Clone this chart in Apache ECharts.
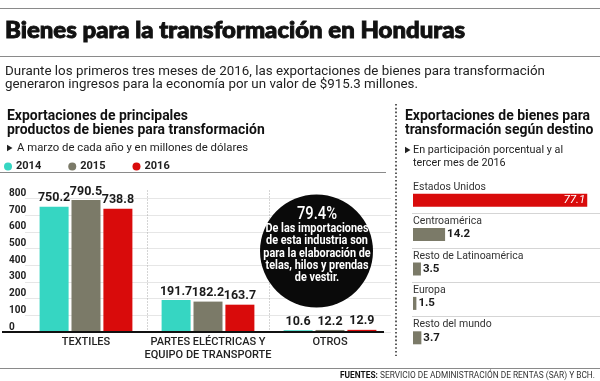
<!DOCTYPE html>
<html>
<head>
<meta charset="utf-8">
<script src="https://cdn.jsdelivr.net/npm/echarts@6/dist/echarts.min.js"></script>
<style>
html,body{margin:0;padding:0;background:#fff;}
#c{width:600px;height:381px;}
</style>
</head>
<body>
<div id="c"></div>
<script>
const categories = ['TEXTILES', 'PARTES ELÉCTRICAS Y\nEQUIPO DE TRANSPORTE', 'OTROS'];
const years = ['2014', '2015', '2016'];
const v2014 = [750.2, 191.7, 10.6];
const v2015 = [790.5, 182.2, 12.2];
const v2016 = [738.8, 163.7, 12.9];
const yMin = 0, yMax = 800, yStep = 100;
const destinos = ['Estados Unidos', 'Centroamérica', 'Resto de Latinoamérica', 'Europa', 'Resto del mundo'];
const destinoValues = [77.1, 14.2, 3.5, 1.5, 3.7];

const FONT = "Roboto, 'Noto Sans', sans-serif";
const HEAVY = "Lato, Roboto, sans-serif";
const colors = ['#36d6c2', '#7b7a68', '#d90b0b'];
const yearValues = [v2014, v2015, v2016];

const chart = echarts.init(document.getElementById('c'), null, {renderer: 'canvas'});

const barSeries = years.map((y, i) => ({
  name: y,
  type: 'bar',
  xAxisIndex: 0, yAxisIndex: 0,
  data: yearValues[i],
  barWidth: 29,
  barGap: '10%',
  itemStyle: {color: colors[i]},
  label: {show: true, position: 'top', distance: 2, color: '#1a1a1a',
    fontFamily: FONT, fontWeight: 'bold', fontSize: 12.5},
  emphasis: {disabled: true}
}));

const destData = destinoValues.map((v, i) => i === 0 ? {
  value: v, itemStyle: {color: colors[2]},
  label: {position: 'insideRight', color: '#fff', distance: 2, fontWeight: 'normal', fontStyle: 'italic'}
} : {value: v, itemStyle: {color: colors[1]}});

chart.setOption({
  animation: false,
  legend: {
    data: years, left: -1, top: 156, icon: 'circle', itemWidth: 8, itemHeight: 8, itemGap: 27,
    selectedMode: false,
    textStyle: {fontFamily: FONT, fontWeight: 'bold', fontSize: 11, color: '#222', padding: [0, 0, 0, -1]}
  },
  grid: [
    {left: 25, right: 209, top: 198.5, bottom: 49},
    {left: 413, right: 6.2, top: 183, bottom: 26}
  ],
  xAxis: [
    {type: 'category', gridIndex: 0, data: categories,
      axisLine: {show: false}, axisTick: {show: false},
      axisLabel: {margin: 4, color: '#222', fontFamily: FONT, fontWeight: 500, fontSize: 11, lineHeight: 13, interval: 0}},
    {type: 'value', gridIndex: 1, min: 0, max: 80, show: false}
  ],
  yAxis: [
    {type: 'value', gridIndex: 0, min: yMin, max: yMax, interval: yStep,
      axisLine: {show: false}, axisTick: {show: false},
      splitLine: {lineStyle: {color: '#e6e6e6', width: 1}},
      axisLabel: {align: 'left', margin: 16, verticalAlign: 'bottom', color: '#222',
        fontFamily: FONT, fontWeight: 'bold', fontSize: 10}},
    {type: 'category', gridIndex: 1, data: destinos, inverse: true,
      axisLine: {show: false}, axisTick: {show: false}, splitLine: {show: false},
      axisLabel: {inside: true, margin: 0, align: 'left', verticalAlign: 'middle',
        interval: 0, showMinLabel: true, showMaxLabel: true, hideOverlap: false,
        formatter: v => v + '\n ', lineHeight: 26,
        color: '#333', fontFamily: FONT, fontSize: 10.5}}
  ],
  series: barSeries.concat([{
    type: 'bar', xAxisIndex: 1, yAxisIndex: 1, data: destData, barWidth: 13,
    label: {show: true, position: 'right', distance: 2, color: '#1a1a1a',
      fontFamily: FONT, fontWeight: 'bold', fontSize: 11.5},
    emphasis: {disabled: true}
  }])
});

// ---- text helpers (condensed headline type via horizontal scaling) ----
const mctx = document.createElement('canvas').getContext('2d');
function fontStr(size, weight, fam) { return weight + ' ' + size + 'px ' + (fam || FONT); }
function measure(text, size, weight, fam) { mctx.font = fontStr(size, weight, fam); return mctx.measureText(text).width; }
function textBlock(lines, x, y0, gap, size, weight, targetFirst, color, align, fam, stroke) {
  const sx = targetFirst / measure(lines[0], size, weight, fam);
  return lines.map((t, i) => ({
    type: 'text', z: 21, x: x, y: y0 + i * gap, scaleX: sx, silent: true,
    style: Object.assign({text: t, font: fontStr(size, weight, fam), fill: color, align: align || 'left', verticalAlign: 'middle'},
      stroke ? {stroke: color, lineWidth: stroke} : {})
  }));
}
function tri(x, y) {
  return {type: 'polygon', silent: true, shape: {points: [[x, y - 3.2], [x, y + 3.2], [x + 5.5, y]]}, style: {fill: '#222'}};
}

// decorative elements positioned from the axes
const base = chart.convertToPixel({gridIndex: 0}, [0, 0]);
const top800 = chart.convertToPixel({gridIndex: 0}, [0, yMax]);
const c0 = chart.convertToPixel({gridIndex: 0}, [0, 0])[0];
const c1 = chart.convertToPixel({gridIndex: 0}, [1, 0])[0];
const c2 = chart.convertToPixel({gridIndex: 0}, [2, 0])[0];
const sepXs = [(c0 + c1) / 2, (c1 + c2) / 2];
const baseY = base[1];

let graphics = [
  {type: 'line', shape: {x1: 0, y1: 8.5, x2: 600, y2: 8.5}, style: {stroke: '#8a8a8a', lineWidth: 1}},
  {type: 'line', shape: {x1: 0, y1: 56.5, x2: 600, y2: 56.5}, style: {stroke: '#8a8a8a', lineWidth: 1}},
  {type: 'line', shape: {x1: 0, y1: 172.5, x2: 386, y2: 172.5}, style: {stroke: '#8a8a8a', lineWidth: 1}},
  {type: 'line', shape: {x1: 0, y1: 368.5, x2: 600, y2: 368.5}, style: {stroke: '#8a8a8a', lineWidth: 1}},
  {type: 'line', shape: {x1: 396, y1: 104, x2: 396, y2: 356}, style: {stroke: '#333', lineWidth: 1.6, lineDash: [1.6, 2.2]}},
  {type: 'line', z: 10, shape: {x1: 2, y1: baseY, x2: 384, y2: baseY}, style: {stroke: '#111', lineWidth: 2}}
];
sepXs.forEach(x => graphics.push({type: 'line', shape: {x1: Math.round(x) + 0.5, y1: top800[1] - 8, x2: Math.round(x) + 0.5, y2: baseY},
  style: {stroke: '#aaa', lineWidth: 1, lineDash: [1, 2]}}));
for (let i = 0; i < destinos.length - 1; i++) {
  const p = chart.convertToPixel({gridIndex: 1}, [0, i]);
  const y = Math.round(p[1] + 13) + 0.5;
  graphics.push({type: 'line', shape: {x1: 412, y1: y, x2: 600, y2: y}, style: {stroke: '#d5d5d5', lineWidth: 1}});
}

// headings
graphics = graphics.concat(
  textBlock(['Bienes para la transformación en Honduras'], 5, 30.5, 0, 22, 900, 460, '#111', 'left', HEAVY, 0.9),
  textBlock(['Durante los primeros tres meses de 2016, las exportaciones de bienes para transformación',
             'generaron ingresos para la economía por un valor de $915.3 millones.'], 5, 71.5, 13.5, 13, 'normal', 540, '#222'),
  textBlock(['Exportaciones de principales', 'productos de bienes para transformación'], 7, 116.7, 14, 14, 'bold', 181, '#111'),
  [tri(7, 148)],
  textBlock(['A marzo de cada año y en millones de dólares'], 17, 148, 0, 11.5, 'normal', 231, '#222'),
  textBlock(['Exportaciones de bienes para', 'transformación según destino'], 405, 116.7, 14, 14, 'bold', 185, '#111'),
  [tri(405, 150)],
  textBlock(['En participación porcentual y al', 'tercer mes de 2016'], 413, 150, 13.5, 11.5, 'normal', 150, '#222')
);
// footer
(function () {
  const b = 'FUENTES:', r = ' SERVICIO DE ADMINISTRACIÓN DE RENTAS (SAR) Y BCH.';
  const wb = measure(b, 9.5, 'bold'), wr = measure(r, 9.5, 'normal');
  const sx = 255 / (wb + wr);
  graphics.push({type: 'text', x: 340, y: 376, scaleX: sx, style: {text: b, font: fontStr(9.5, 'bold'), fill: '#111', verticalAlign: 'middle'}});
  graphics.push({type: 'text', x: 340 + wb * sx, y: 376, scaleX: sx, style: {text: r, font: fontStr(9.5, 'normal'), fill: '#333', verticalAlign: 'middle'}});
})();
// callout circle
graphics.push({type: 'circle', z: 20, shape: {cx: 316.5, cy: 251, r: 56.5}, style: {fill: '#0a0a0a'}});
graphics = graphics.concat(
  textBlock(['79.4%'], 317, 214, 0, 18, 500, 40, '#fff', 'center'),
  textBlock(['De las importaciones', 'de esta industria son', 'para la elaboración de', 'telas, hilos y prendas', 'de vestir.'],
    317, 229, 12.3, 12, 'bold', 103, '#fff', 'center')
);

chart.setOption({graphic: graphics});
</script>
</body>
</html>
